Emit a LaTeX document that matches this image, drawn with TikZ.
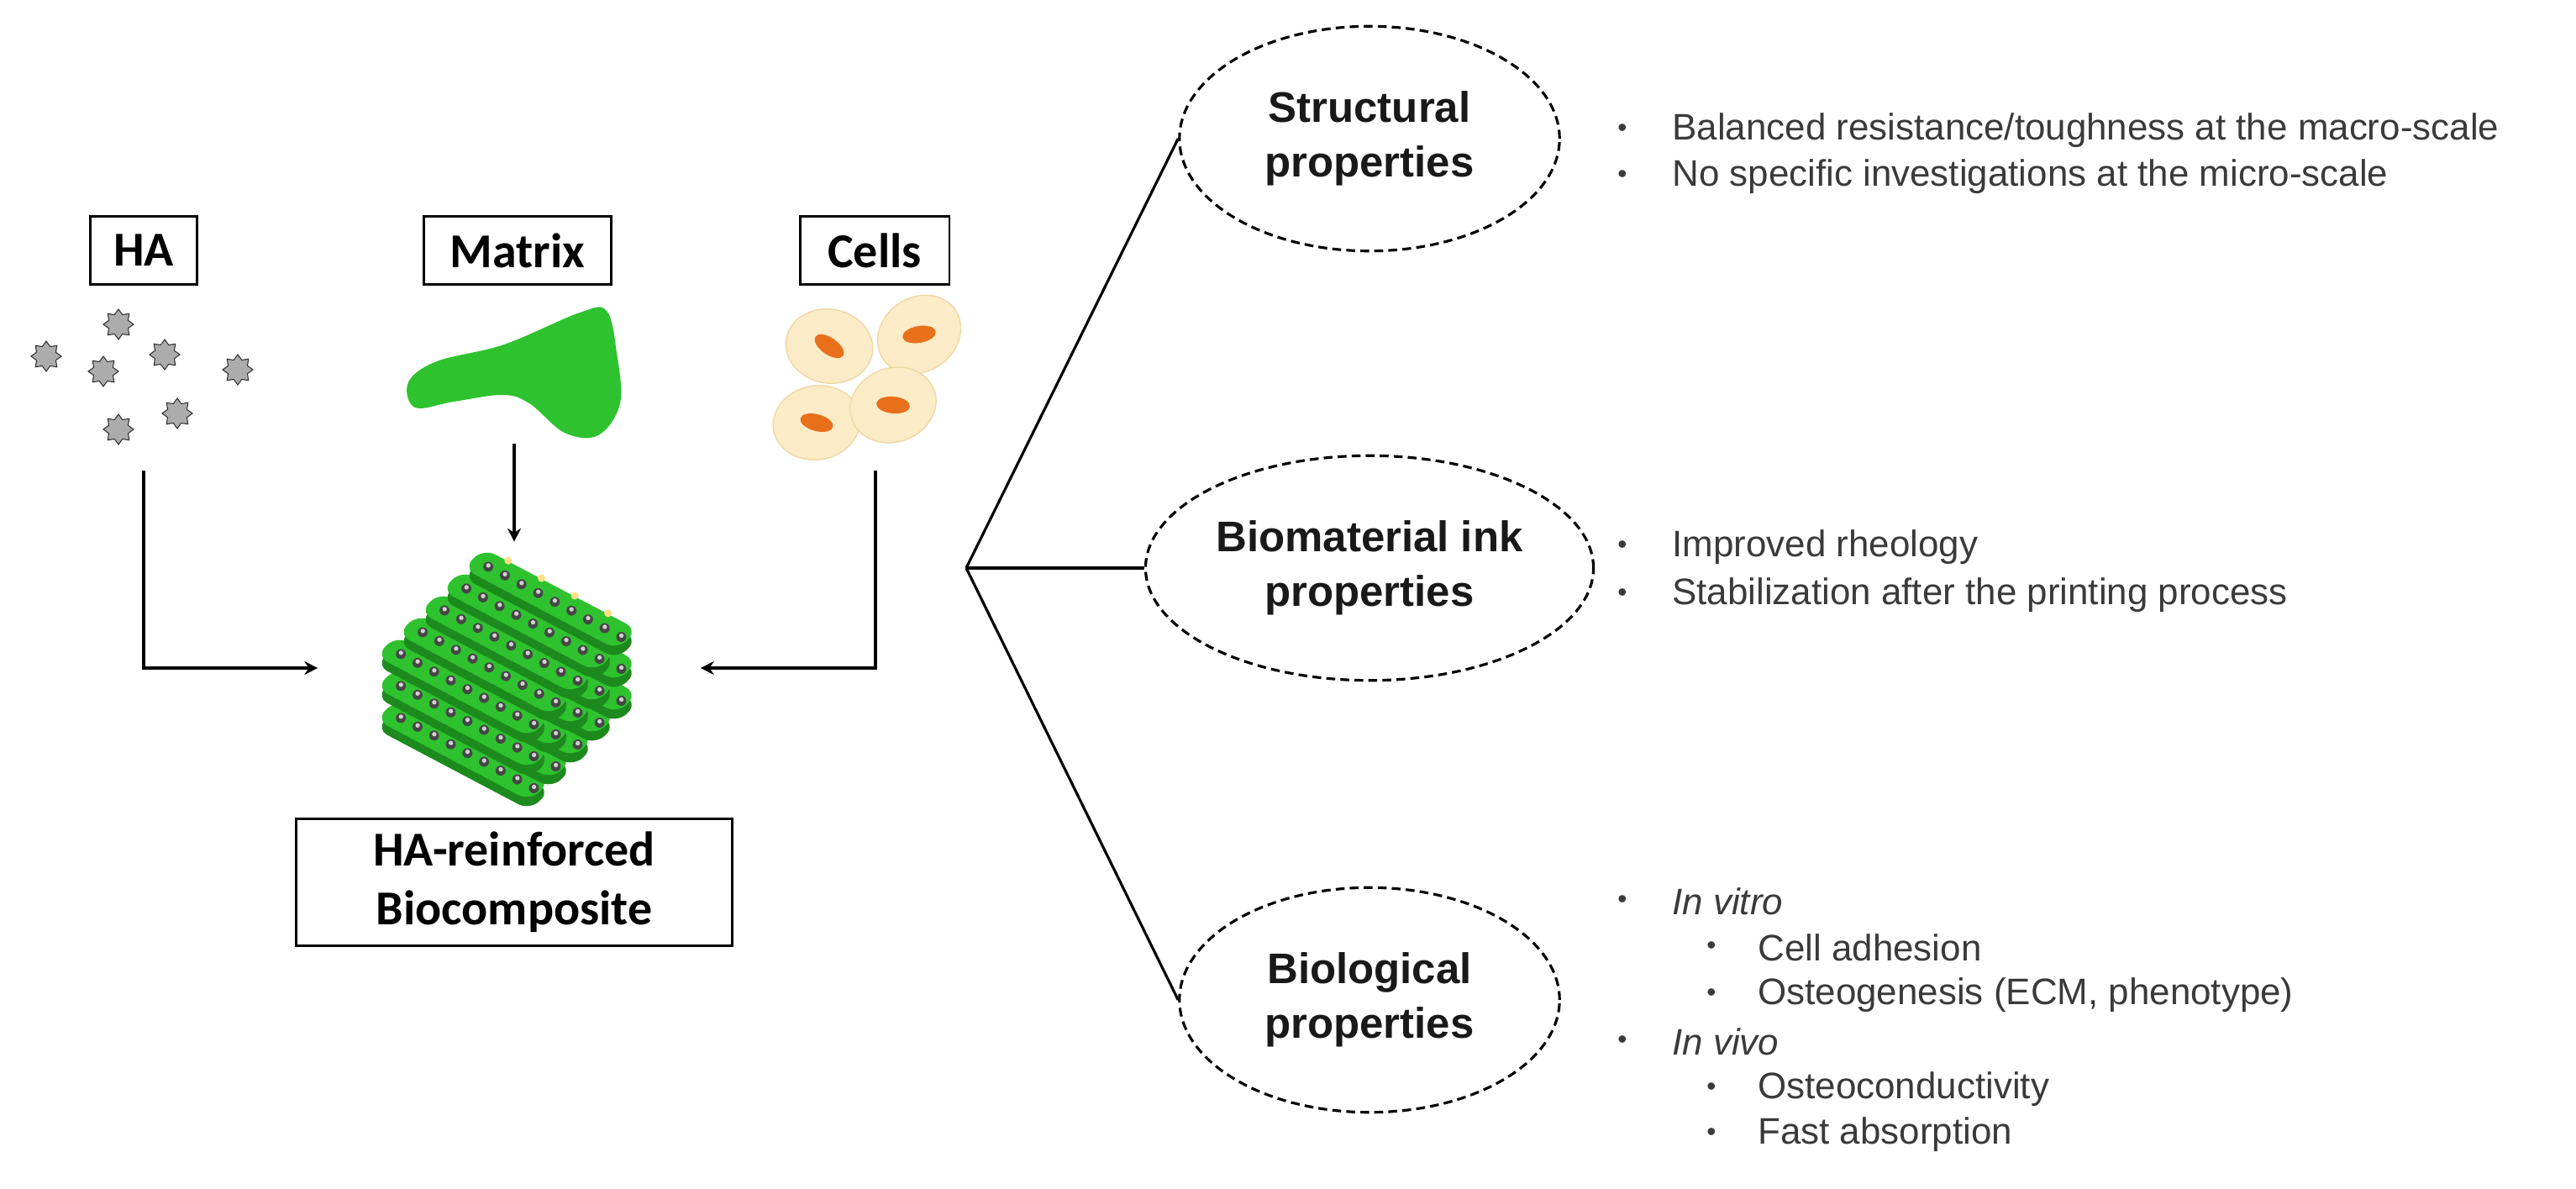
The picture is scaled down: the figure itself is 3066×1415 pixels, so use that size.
\documentclass[tikz,border=0pt]{standalone}
\usepackage{fontspec}
\setmainfont{Liberation Sans}
\newfontfamily\boxfont{Carlito}
\usetikzlibrary{shapes.geometric,arrows.meta}
\definecolor{gmat}{HTML}{2EC22E}
\definecolor{gdark}{HTML}{1C8A1C}
\definecolor{cream}{HTML}{FBEBC6}
\definecolor{creamedge}{HTML}{EED8A6}
\definecolor{nuc}{HTML}{E8701A}
\definecolor{txt}{HTML}{3A3A3A}
\tikzset{
  lbl/.style={draw, line width=1.7pt, font=\boxfont\bfseries\fontsize{33}{40}\selectfont, minimum height=1.62cm, inner sep=0pt, align=center},
  prop/.style={ellipse, draw, line width=1.8pt, dash pattern=on 6pt off 3.5pt, minimum width=9.05cm, minimum height=5.35cm, align=center, font=\bfseries\fontsize{29}{37}\selectfont, text=black!90},
  link/.style={line width=1.8pt},
  arr/.style={line width=1.8pt, -{Stealth[length=9pt,width=9pt]}},
  bul/.style={anchor=west, font=\fontsize{25}{28}\selectfont, text=txt, inner sep=0pt},
  dot/.style={anchor=center, font=\fontsize{18}{20}\selectfont, text=txt, inner sep=0pt},
  ha/.style={star, star points=8, star point ratio=1.45, minimum size=0.72cm, fill=gray!65, draw=gray!35!black, line width=0.6pt, inner sep=0pt},
}
\begin{document}
\begin{tikzpicture}[x=0.02cm,y=-0.02cm]
\useasboundingbox (0,0) rectangle (3066,1415);

% top labels
\node[lbl, minimum width=2.56cm] (ha) at (171,298) {HA};
\node[lbl, minimum width=4.46cm] (mat) at (616,298) {Matrix};
\node[lbl, minimum width=3.56cm] (cel) at (1041,298) {Cells};

% HA particles
\foreach \p/\q [count=\i] in {141/386,55/424,123/442,196/422,283/440,141/511,211/492}
  \node[ha] (hp\i) at (\p,\q) {};

% matrix blob
\fill[gmat] plot[smooth cycle, tension=0.6] coordinates {(486,455) (520,430) (600,410) (690,372) (722,370) (734,420) (738,480) (712,518) (672,515) (630,480) (598,470) (540,478) (494,485)};

% cells
\foreach \cx/\cy/\rot [count=\i] in {987/412/-10,1094/398/35,972/503/10,1063/482/20}{
  \fill[cream, draw=creamedge, line width=0.8pt, rotate around={\rot:(\cx,\cy)}] (\cx,\cy) ellipse (52 and 44);
  \fill[nuc, rotate around={\rot-25:(\cx,\cy)}] (\cx,\cy) ellipse (20 and 10);
}

% biocomposite graphic
\foreach \L in {2,1,0}{
 \begin{scope}[shift={(606,765+\L*38)}, x={(0.36cm,-0.19cm)}, y={(0.26cm,0.26cm)}]
  \foreach \k in {0,...,4}{
    \pgfmathsetmacro{\a}{-5+2*\k}
    \pgfmathsetmacro{\b}{-3.15+2*\k}
    \fill[gdark, rounded corners=9pt, yshift=-0.22cm] (-5.2,\a) -- (5,\a) -- (5,\b) -- (-5.2,\b) -- cycle;
    \fill[gmat, rounded corners=9pt] (-5.2,\a) -- (5,\a) -- (5,\b) -- (-5.2,\b) -- cycle;
    \foreach \j in {-4.2,-3.1,...,4.6}{
      \fill[gray!55!black] (\j,\a+0.9) circle[radius=3.4pt];
      \fill[gray!35] (\j-0.05,\a+0.98) circle[radius=1.5pt];
    }
    \foreach \j in {-3.6,-1.4,0.8,3}
      \fill[yellow!55!orange!45] (\j,\b+0.05) circle[radius=2.6pt];
  }
 \end{scope}
}
\node[minimum width=9.1cm, minimum height=6cm, inner sep=0pt] (comp) at (606,795) {};

\node[lbl, minimum width=10.4cm, minimum height=3.02cm] (bio) at (612,1050) {HA-reinforced\\Biocomposite};

% arrows
\coordinate (haS) at (171,560);
\coordinate (matS) at (612,528);
\coordinate (celS) at (1042,560);
\draw[arr] (haS) |- (comp.west);
\draw[arr] (matS) -- (matS |- comp.north);
\draw[arr] (celS) |- (comp.east);

% property ellipses
\node[prop] (sp) at (1630,165) {Structural\\properties};
\node[prop] (bp) at (1630,676) {Biomaterial ink\\properties};
\node[prop] (gp) at (1630,1190) {Biological\\properties};

\coordinate (br) at (1150,676);
\draw[link] (br) -- (sp.west);
\draw[link] (br) -- (bp.west);
\draw[link] (br) -- (gp.west);

% bullets
\node[dot] (d1) at (1931,155) {\textbullet};
\node[bul] (t1) at (1990,155) {Balanced resistance/toughness at the macro-scale};
\node[dot] (d2) at (1931,210) {\textbullet};
\node[bul] (t2) at (1990,210) {No specific investigations at the micro-scale};

\node[dot] (d3) at (1931,651) {\textbullet};
\node[bul] (t3) at (1990,651) {Improved rheology};
\node[dot] (d4) at (1931,708) {\textbullet};
\node[bul] (t4) at (1990,708) {Stabilization after the printing process};

\node[dot] (d5) at (1931,1073) {\textbullet};
\node[bul] (t5) at (1990,1073) {\itshape In vitro};
\node[dot] (d6) at (2037,1128) {\textbullet};
\node[bul] (t6) at (2092,1128) {Cell adhesion};
\node[dot] (d7) at (2037,1184) {\textbullet};
\node[bul] (t7) at (2092,1184) {Osteogenesis (ECM, phenotype)};
\node[dot] (d8) at (1931,1240) {\textbullet};
\node[bul] (t8) at (1990,1240) {\itshape In vivo};
\node[dot] (d9) at (2037,1296) {\textbullet};
\node[bul] (t9) at (2092,1296) {Osteoconductivity};
\node[dot] (d10) at (2037,1350) {\textbullet};
\node[bul] (t10) at (2092,1350) {Fast absorption};
\end{tikzpicture}
\end{document}
